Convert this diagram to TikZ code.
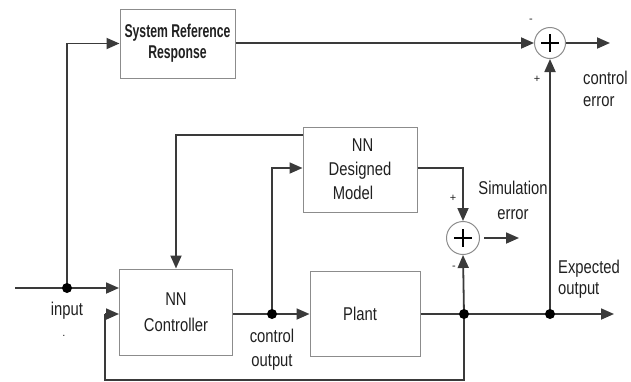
\documentclass[tikz,border=0pt]{standalone}
\usepackage{fontspec}
\setmainfont{Liberation Sans}
\usetikzlibrary{arrows.meta,calc}
\definecolor{ln}{HTML}{3A3A3A}
\definecolor{bx}{HTML}{8C8C8C}
\definecolor{tx}{HTML}{202020}
\newcommand{\nt}[1]{\scalebox{0.8}[1]{#1}}
\newcommand{\bt}[1]{\scalebox{0.66}[1]{#1}}
\tikzset{
  blk/.style={draw=bx,line width=1pt,fill=white,inner sep=0pt,text=tx,align=center},
  flow/.style={draw=ln,line width=1.8pt,-{Triangle[length=13pt,width=11pt]}},
  wire/.style={draw=ln,line width=1.8pt},
  sumc/.style={circle,draw=bx,line width=1pt,fill=white,inner sep=0pt},
  junc/.style={circle,fill=black,inner sep=0pt,minimum size=10pt},
  lbl/.style={text=tx,font=\fontsize{18.5}{21}\selectfont,inner sep=0pt},
  sgn/.style={text=tx,font=\fontsize{11}{11}\selectfont,inner sep=0pt}
}
\newcommand{\plussign}[1]{\draw[black,line width=2.6pt] ($(#1)+(-9,0)$) -- ($(#1)+(9,0)$) ($(#1)+(0,-9)$) -- ($(#1)+(0,9)$);}
\begin{document}
\begin{tikzpicture}[x=1pt,y=-1pt]
\useasboundingbox (0,0) rectangle (631,381);
% blocks
\node[blk,minimum width=115pt,minimum height=69pt,font=\bfseries\fontsize{18.5}{21}\selectfont] (srr) at (177.5,43.5) {\bt{System Reference}\\\bt{Response}};
\node[blk,minimum width=113pt,minimum height=86pt,font=\fontsize{18.5}{26}\selectfont] (ctrl) at (176,312) {\nt{NN}\\\nt{Controller}};
\node[blk,minimum width=114pt,minimum height=85pt,font=\fontsize{18.5}{24}\selectfont] (model) at (360,169.5) {\hspace*{5pt}\nt{NN}\\\nt{Designed}\\\hspace*{-14pt}\nt{Model}};
\node[blk,minimum width=110pt,minimum height=85pt,font=\fontsize{18.5}{21}\selectfont] (plant) at (365,314) {\hspace*{-10pt}\nt{Plant}};
\node[sumc,minimum size=31pt] (s1) at (550,43) {};
\node[sumc,minimum size=33pt] (s2) at (463,238) {};
\plussign{s1}
\plussign{s2}
% coordinates
\coordinate (in0) at (15,288);
\coordinate (inp) at (67,288);
\coordinate (cdot) at (272,314);
\coordinate (pdot) at (464,314);
\coordinate (edot) at (550,314);
\coordinate (ce) at (610,43);
\coordinate (se) at (519,238);
\coordinate (eo) at (614,314);
\coordinate (fb1) at (464,380);
\coordinate (fb2) at (105,380);
\coordinate (fb3) at (105,314);
\coordinate (mt) at (176,135);
\coordinate (mi) at (272,168);
\coordinate (mo) at (463,168);
% connectors
\draw[wire] (in0) -- (inp);
\draw[flow] (inp) -- (ctrl.west |- inp);
\draw[flow] (inp) |- (srr.west);
\draw[flow] (srr.east |- s1) -- (s1.west);
\draw[flow] (s1.east) -- (ce);
\draw[wire] (pdot) -- (fb1) -- (fb2) -- (fb3);
\draw[flow] (fb3) -- (ctrl.west |- fb3);
\draw[flow] (model.west |- mt) -- (mt) -- (ctrl.north);
\draw[flow] (ctrl.east |- cdot) -- (plant.west |- cdot);
\draw[flow] (cdot) -- (cdot |- mi) -- (model.west |- mi);
\draw[flow] (model.east |- mo) -- (mo) -- (s2.north);
\draw[flow] (plant.east) -- (eo);
\draw[flow] (pdot) -- (s2.south);
\draw[flow] (edot) -- (s1.south);
\draw[flow] ([xshift=4pt]s2.east) -- (se);
\node[junc] at (inp) {};
\node[junc] at (cdot) {};
\node[junc] at (pdot) {};
\node[junc] at (edot) {};
% labels
\node[lbl] (linput) at (67,311) {\nt{input}};
\node[sgn] (ldot) at (64,336) {.};
\node[lbl,align=center,font=\fontsize{18.5}{24}\selectfont] (lco) at (272,350) {\nt{control}\\\nt{output}};
\node[lbl,align=center,font=\fontsize{18.5}{25}\selectfont] (lsim) at (513,200) {\nt{Simulation}\\\nt{error}};
\node[lbl,align=left,anchor=west,font=\fontsize{18.5}{21}\selectfont] (lexp) at (558,279) {\nt{Expected}\\\nt{output}};
\node[lbl,align=left,anchor=west,font=\fontsize{18.5}{22}\selectfont] (lce) at (583,89) {\nt{control}\\\nt{error}};
\node[sgn] (m1) at (531,21) {-};
\node[sgn] (p1) at (537,79) {+};
\node[sgn] (p2) at (453,198) {+};
\node[sgn] (m2) at (454,268) {-};
\end{tikzpicture}
\end{document}
